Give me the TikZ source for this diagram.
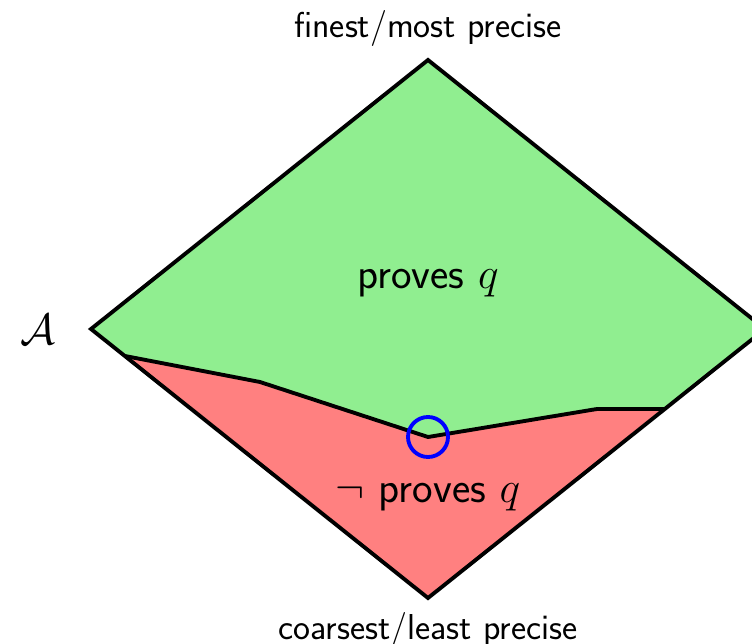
\documentclass[tikz,border=0pt]{standalone}
\usepackage{amssymb}
\definecolor{verde}{RGB}{144,238,144}
\definecolor{rosso}{RGB}{255,128,128}
\begin{document}
\begin{tikzpicture}[linea/.style={line width=2.2pt},
    etichetta/.style={font=\fontsize{20.5}{24}\selectfont\sffamily},
    regione/.style={font=\fontsize{24.8}{29}\selectfont\sffamily}]
    \useasboundingbox (0,0) rectangle (15.04,-12.88);
    %vertici del rombo
    \coordinate (alto) at (8.56,-1.2);
    \coordinate (sinistra) at (1.82,-6.58);
    \coordinate (destra) at (15.3,-6.58);
    \coordinate (basso) at (8.56,-11.96);
    %linea di confine
    \coordinate (c1) at (2.5,-7.12);
    \coordinate (c2) at (5.2,-7.64);
    \coordinate (c3) at (8.56,-8.74);
    \coordinate (c4) at (11.94,-8.18);
    \coordinate (c5) at (13.3,-8.18);
    %regione verde
    \fill[verde](sinistra)--(alto)--(destra)--(c5)--(c4)--(c3)--(c2)--(c1)--cycle;
    %regione rossa
    \fill[rosso](c1)--(c2)--(c3)--(c4)--(c5)--(basso)--cycle;
    %bordo del rombo
    \draw[linea](sinistra)--(alto)--(destra)--(basso)--cycle;
    \draw[linea](c1)--(c2)--(c3)--(c4)--(c5);
    %cerchio blu
    \draw[linea,blue](c3)circle(0.4);
    %etichette
    \node[etichetta](fine) at (8.56,-0.56){finest/most precise};
    \node[etichetta](grezzo) at (8.56,-12.6){coarsest/least precise};
    \node[regione](insieme) at (0.76,-6.6){$\mathcal{A}$};
    \node[regione](prova) at (8.56,-5.66){proves $q$};
    \node[regione](nonprova) at (8.56,-9.94){$\neg$ proves $q$};
\end{tikzpicture}
\end{document}
